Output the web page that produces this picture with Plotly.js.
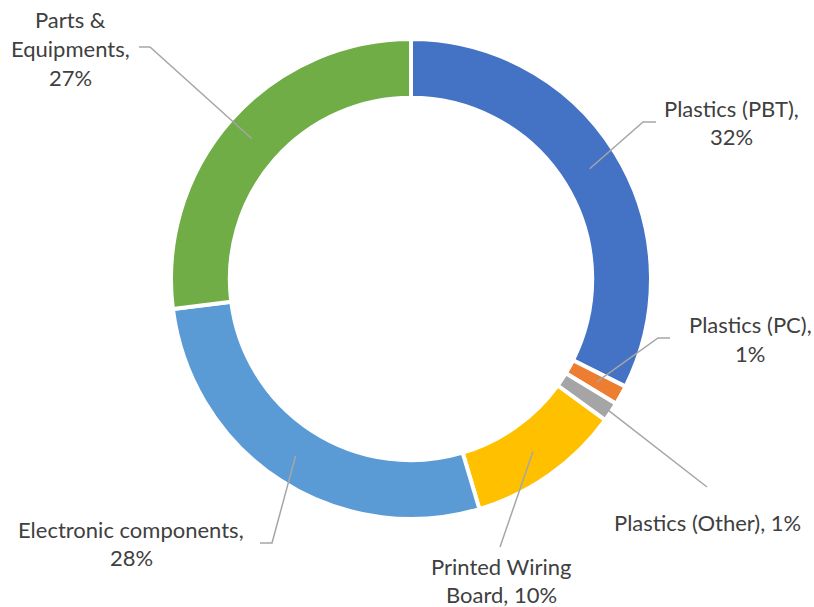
<!DOCTYPE html>
<html>
<head>
<meta charset="utf-8">
<script src="https://cdn.plot.ly/plotly-3.0.1.min.js"></script>
<style>html,body{margin:0;padding:0;background:#fff;}#chart{width:814px;height:607px;}</style>
</head>
<body>
<div id="chart"></div>
<script>
// ---- data ----
const categories = ["Plastics (PBT)", "Plastics (PC)", "Plastics (Other)", "Printed Wiring Board", "Electronic components", "Parts & Equipments"];
const shares = [32.4, 1.3, 1.3, 10.4, 27.6, 27.0];
const colors = ["#4472C4", "#ED7D31", "#A5A5A5", "#FFC000", "#5B9BD5", "#70AD47"];

// ---- label layout (pixel positions of label lines and leader ends) ----
const W = 814, H = 607;
const CX = 411, CY = 279, R = 240, HOLE = 0.755;
const LINE_H = 28.5;
// brk: "name" -> "Name,\nPct"; "none" -> one line; number -> break name after n words
const labelCfg = [
  {tx: 731, ty: 108, brk: "name", ex: 643, ey: 122, hx: 656, rs: 0.875},
  {tx: 750, ty: 325, brk: "name", ex: 658, ey: 338, hx: 670, rs: 0.885},
  {tx: 707, ty: 522, brk: "none", ex: 707, ey: 487, hx: null, rs: 0.99},
  {tx: 501, ty: 566, brk: 2, ex: 500, ey: 547, hx: null, rs: 0.88},
  {tx: 131, ty: 529, brk: "name", ex: 272, ey: 543, hx: 260, rs: 0.88},
  {tx: 70, ty: 20, brk: 2, ex: 150, ey: 47, hx: 139, rs: 0.885}
];

const px = x => x / W;
const py = y => 1 - y / H;

const total = shares.reduce((a, b) => a + b, 0);
const shapes = [];
const annotations = [];
const font = {family: "Lato, 'Liberation Sans', sans-serif", size: 22, color: "#404040"};
let cum = 0;
shares.forEach((v, i) => {
  const mid = (cum + v / 2) / total * 2 * Math.PI;
  cum += v;
  const c = labelCfg[i];
  const sx = CX + c.rs * R * Math.sin(mid);
  const sy = CY - c.rs * R * Math.cos(mid);
  let path = `M ${px(sx)} ${py(sy)} L ${px(c.ex)} ${py(c.ey)}`;
  if (c.hx !== null) path += ` L ${px(c.hx)} ${py(c.ey)}`;
  shapes.push({type: "path", xref: "paper", yref: "paper", path: path,
    line: {color: "#A6A6A6", width: 1.5}});
  const pct = Math.round(v / total * 100) + "%";
  const name = categories[i];
  let lines;
  if (c.brk === "name") lines = [name + ",", pct];
  else if (c.brk === "none") lines = [name + ", " + pct];
  else {
    const words = name.split(" ");
    const first = words.slice(0, c.brk).join(" ");
    const rest = words.slice(c.brk).join(" ");
    lines = (i === 3) ? [first, rest + ", " + pct] : [first, rest + ",", pct];
  }
  lines.forEach((t, k) => {
    annotations.push({xref: "paper", yref: "paper", x: px(c.tx), y: py(c.ty + k * LINE_H),
      xanchor: "center", yanchor: "middle", showarrow: false, text: t, font: font});
  });
});

const trace = {
  type: "pie",
  labels: categories,
  values: shares,
  hole: HOLE,
  sort: false,
  direction: "clockwise",
  rotation: 0,
  textinfo: "none",
  hoverinfo: "label+percent",
  marker: {colors: colors, line: {color: "#FFFFFF", width: 4}},
  domain: {x: [px(CX - R), px(CX + R)], y: [py(CY + R), py(CY - R)]}
};

const layout = {
  width: W, height: H,
  margin: {l: 0, r: 0, t: 0, b: 0},
  showlegend: false,
  paper_bgcolor: "#FFFFFF",
  shapes: shapes,
  annotations: annotations
};

Plotly.newPlot("chart", [trace], layout, {displayModeBar: false, staticPlot: true});
</script>
</body>
</html>
